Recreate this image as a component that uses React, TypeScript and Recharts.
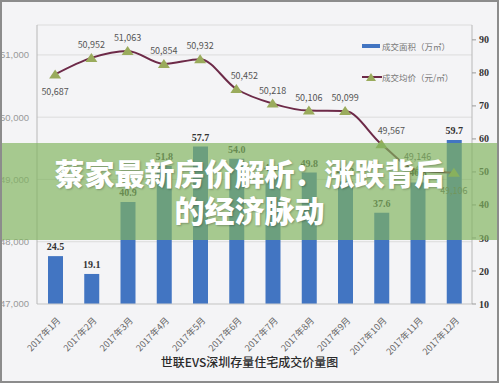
import React from "react";
import { ComposedChart, Bar, Line, XAxis, YAxis, CartesianGrid, LabelList } from "recharts";

const months = [
  "2017年1月", "2017年2月", "2017年3月", "2017年4月", "2017年5月", "2017年6月",
  "2017年7月", "2017年8月", "2017年9月", "2017年10月", "2017年11月", "2017年12月",
];
// 成交面积（万㎡）
const areaValues = [24.5, 19.1, 40.9, 51.8, 57.7, 54.0, 48.6, 49.8, 47.2, 37.6, 46.8, 59.7];
// 成交均价（元/㎡）
const priceValues = [50687, 50952, 51063, 50854, 50932, 50452, 50218, 50106, 50099, 49567, 49146, 49106];
const leftTicks = [47000, 48000, 49000, 50000, 51000];
const rightTicks = [10, 20, 30, 40, 50, 60, 70, 80, 90];

const barName = "成交面积（万㎡）";
const lineName = "成交均价（元/㎡）";
const title = "世联EVS深圳存量住宅成交价量图";
const bannerLine1 = "蔡家最新房价解析：涨跌背后";
const bannerLine2 = "的经济脉动";

const data = months.map((m, i) => ({ month: m, area: areaValues[i], price: priceValues[i] }));

const CJK = '"Noto Sans CJK SC", "Noto Sans", sans-serif';
const SERIF = '"Liberation Serif", "DejaVu Serif", serif';

const Triangle = (props: any) => {
  const { cx, cy } = props;
  if (cx == null || cy == null) return null;
  return <polygon points={`${cx - 6},${cy + 4} ${cx + 6},${cy + 4} ${cx},${cy - 5}`} fill="#9aab5c" />;
};

const PriceLabel = (props: any) => {
  const { x, y, value, index } = props;
  const below = index === 0 || index === priceValues.length - 1;
  const shift = index === 5 ? 8 : index === 9 ? 10 : 0;
  return (
    <text
      x={x + shift}
      y={below ? y + 21 : y - 10}
      textAnchor="middle"
      fontSize={9}
      fontFamily={CJK}
      fill="#555"
    >
      {Number(value).toLocaleString("en-US")}
    </text>
  );
};

const MonthTick = (props: any) => {
  const { x, y, payload } = props;
  return (
    <text
      transform={`translate(${x + 6},${y + 9}) rotate(-46)`}
      textAnchor="end"
      fontSize={9}
      fontFamily={CJK}
      fill="#666"
    >
      {payload.value}
    </text>
  );
};

export default function App() {
  return (
    <div
      style={{
        position: "absolute",
        left: 0,
        top: 0,
        width: 499,
        height: 383,
        background: "#f4f4f6",
        overflow: "hidden",
        fontFamily: CJK,
      }}
    >
      <ComposedChart width={499} height={383} data={data} margin={{ top: 25, right: 0, bottom: 29, left: 0 }}>
        <CartesianGrid yAxisId="left" vertical={false} stroke="#dcdcdc" />
        <XAxis
          dataKey="month"
          height={50}
          interval={0}
          tick={<MonthTick />}
          tickLine={false}
          axisLine={{ stroke: "#cfcfcf" }}
        />
        <YAxis
          yAxisId="left"
          width={37}
          domain={[47000, 51480]}
          ticks={leftTicks}
          tickFormatter={(v: number) => v.toLocaleString("en-US")}
          tickLine={false}
          tickSize={0}
          tickMargin={8}
          axisLine={{ stroke: "#b8b8b8" }}
          tick={{ fontSize: 9.5, fill: "#999", fontFamily: '"Liberation Sans", sans-serif' }}
        />
        <YAxis
          yAxisId="right"
          orientation="right"
          width={27}
          domain={[10, 94.5]}
          ticks={rightTicks}
          tickSize={4}
          tickMargin={3}
          tickLine={{ stroke: "#999" }}
          axisLine={{ stroke: "#b8b8b8" }}
          tick={{ fontSize: 10, fill: "#333", fontFamily: SERIF, fontWeight: 700 }}
        />
        <Bar yAxisId="right" dataKey="area" name={barName} fill="#4275c2" barSize={15} isAnimationActive={false}>
          <LabelList
            dataKey="area"
            position="top"
            offset={6}
            formatter={(v: any) => Number(v).toFixed(1)}
            style={{ fontSize: 10, fontWeight: 700, fontFamily: SERIF, fill: "#333" }}
          />
        </Bar>
        <Line
          yAxisId="left"
          type="monotone"
          dataKey="price"
          name={lineName}
          stroke="#6d2a48"
          strokeWidth={2}
          dot={<Triangle />}
          activeDot={false}
          isAnimationActive={false}
        >
          <LabelList dataKey="price" content={<PriceLabel />} />
        </Line>
      </ComposedChart>

      {/* legend */}
      <div style={{ position: "absolute", left: 362, top: 40, fontSize: 8.5, color: "#777", lineHeight: "12px" }}>
        <div style={{ display: "flex", alignItems: "center" }}>
          <span style={{ width: 18, height: 4, background: "#4275c2", display: "inline-block", marginRight: 2 }} />
          {barName}
        </div>
        <div style={{ display: "flex", alignItems: "center", marginTop: 19 }}>
          <svg width={20} height={10}>
            <line x1={0} y1={5} x2={20} y2={5} stroke="#6d2a48" strokeWidth={2} />
            <polygon points="4,9 14,9 9,1" fill="#9aab5c" />
          </svg>
          {lineName}
        </div>
      </div>

      {/* title */}
      <div
        style={{
          position: "absolute",
          left: 0,
          width: 499,
          top: 353,
          textAlign: "center",
          fontSize: 12,
          fontWeight: 500,
          color: "#2a2a2a",
        }}
      >
        {title}
      </div>

      {/* banner */}
      <div
        style={{
          position: "absolute",
          left: 0,
          top: 143,
          width: 499,
          height: 97,
          background: "rgba(128,180,95,0.68)",
          color: "#fff",
          textAlign: "center",
          fontWeight: 900,
          fontSize: 30,
          lineHeight: "37px",
          paddingTop: 11,
          boxSizing: "border-box",
          textShadow: "1px 1px 2px rgba(0,0,0,0.25)",
        }}
      >
        <div>{bannerLine1}</div>
        <div>{bannerLine2}</div>
      </div>

      {/* frame */}
      <div
        style={{
          position: "absolute",
          left: 0,
          top: 0,
          width: 499,
          height: 383,
          boxSizing: "border-box",
          border: "2px solid #8c8c8c",
          pointerEvents: "none",
        }}
      />
    </div>
  );
}
